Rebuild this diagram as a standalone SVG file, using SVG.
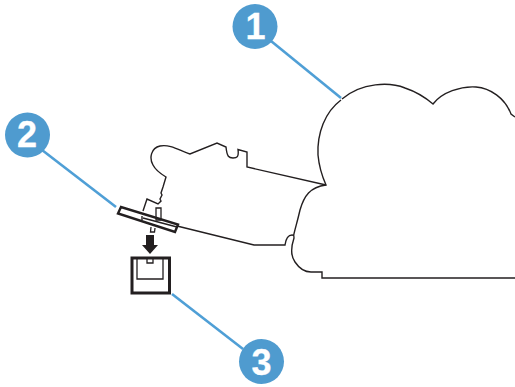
<svg xmlns="http://www.w3.org/2000/svg" width="515" height="387" viewBox="0 0 515 387">
<style>
.o{fill:none;stroke:#231f20;stroke-width:1.4;stroke-linejoin:miter}
.t{fill:none;stroke:#231f20;stroke-width:3}
.b{fill:#fff;stroke:#231f20;stroke-width:2.4}
.m{fill:none;stroke:#231f20;stroke-width:1.3}
.l{stroke:#4f9fd6;stroke-width:2.6;fill:none}
.c{fill:#4f9bcf}
.n{font-family:"Liberation Sans",Arial,sans-serif;font-weight:bold;font-size:36px;fill:#fff;stroke:#fff;stroke-width:.3;text-anchor:middle}
</style>
<g id="connectors">
<path class="l" d="M271 41L341 98"/>
<path class="l" d="M42 150L116 207"/>
<path class="l" d="M172 294L243 349"/>
</g>
<g id="printer">
<path class="o" d="M342 99C362 82 390 82 405 88C417 92 426 98 433 104C442 92 461 86 476 87C490 88 505 98 511 114L515 117"/>
<path class="o" d="M341 100C325 112 317 133 318 155C319 166 322 176 326 185C310 187 304 196 300 210C297 223 295 229 293.500 236"/>
<path class="o" d="M326 185L247 167V152L238 149.500C239 157 237 158 233 158C229 158 227 157 226 147L217 143L190 154C180 151 171 144 160 146C151 148 149 158 153 165C156 171 161 174 166 177L163 187L161 193L162 195L160 199L161 201L158 204L147 199L143 211"/>
<path class="o" d="M177 226L254 245H285C286 238 288 235 292 235C294 235 294 236 294 238C291 247 290 255 295 262C299 268 304 272 311 272H322V278H515"/>
<path class="b" d="M118 213.500L121 207L178 224.500L175 232Z"/>
<path class="o" d="M143 218L177 227"/>
<path class="o" d="M142 216V220"/>
<path class="m" d="M156 208H161V220H156Z" fill="#fff"/>
<path class="m" d="M151 227L150.500 232H154.500L155 228"/>
<path d="M146 235H154V245H158L150 254L142 245H146Z" fill="#231f20"/>
</g>
<g id="tray">
<path class="t" d="M132 258H169.500V293H132Z"/>
<path class="m" d="M137 258V279H163V258"/>
<path class="m" d="M147 258V263H153V258"/>
</g>
<g id="callout-1"><circle class="c" cx="255" cy="26.500" r="22.500"/><text class="n" x="255.500" y="38.500">1</text></g>
<g id="callout-2"><circle class="c" cx="27.500" cy="135" r="22.500"/><text class="n" x="27" y="147">2</text></g>
<g id="callout-3"><circle class="c" cx="261.500" cy="361.500" r="22.500"/><text class="n" x="261.500" y="374.500">3</text></g>
</svg>
